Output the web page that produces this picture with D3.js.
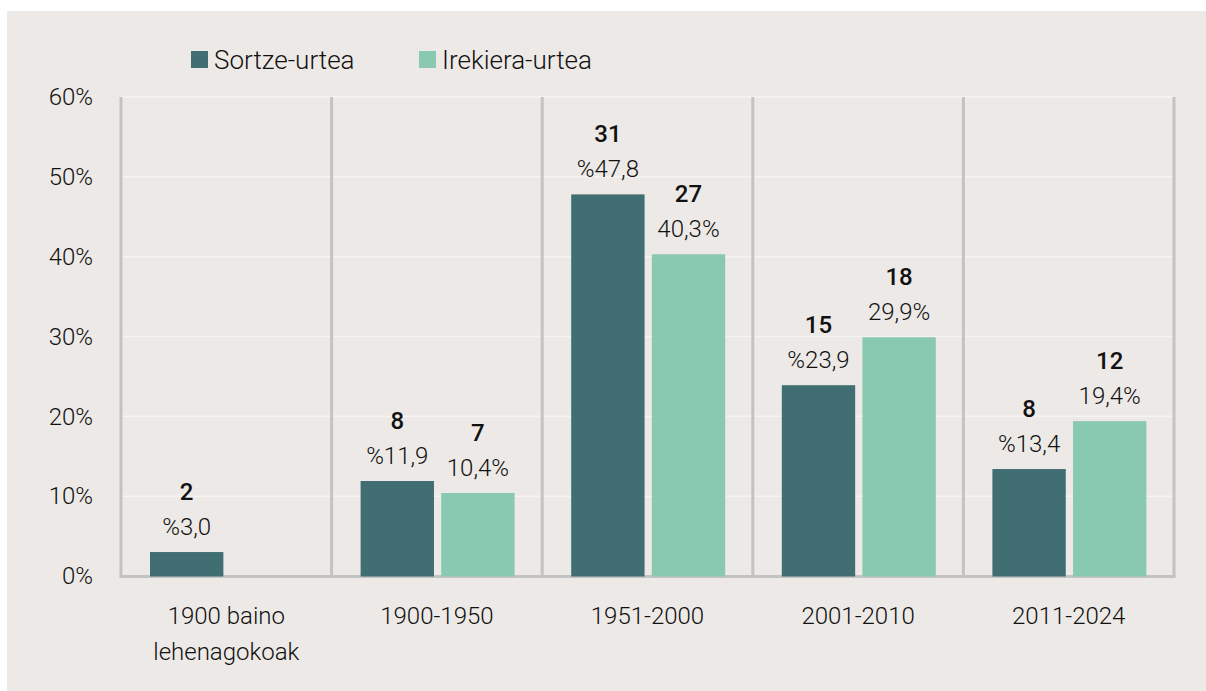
<!DOCTYPE html>
<html><head><meta charset="utf-8">
<script src="https://cdn.jsdelivr.net/npm/d3@7"></script>
<style>
html,body{margin:0;padding:0;background:#fff;}
svg text{font-family:"Roboto",sans-serif;font-weight:300;fill:#111;}
</style></head>
<body><svg id="c" width="1206" height="691"></svg>
<script>
const categories = [["1900 baino","lehenagokoak"],["1900-1950"],["1951-2000"],["2001-2010"],["2011-2024"]];
const seriesNames = ["Sortze-urtea","Irekiera-urtea"];
const sortzePct = [3.0, 11.9, 47.8, 23.9, 13.4];
const sortzeCount = [2, 8, 31, 15, 8];
const irekieraPct = [null, 10.4, 40.3, 29.9, 19.4];
const irekieraCount = [null, 7, 27, 18, 12];
const yTicks = [0,10,20,30,40,50,60];
const colors = ["#416e73","#89c9b0"];

const svg = d3.select("#c");
svg.append("rect").attr("x",7).attr("y",11).attr("width",1199).attr("height",680).attr("fill","#ede9e6");

const x0 = 121, x1 = 1174;
const x = d3.scaleBand().domain(d3.range(categories.length)).range([x0,x1]).paddingInner(0).paddingOuter(0);
const y = d3.scaleLinear().domain([0,60]).range([576,97]);
const xs = d3.scaleBand().domain([0,1]).range([29,183]).paddingInner(0.09);

// grid lines
svg.append("g").selectAll("line").data(yTicks.slice(1)).join("line")
  .attr("x1",x0).attr("x2",x1).attr("y1",d=>y(d)).attr("y2",d=>y(d))
  .attr("stroke","#f6f4f2").attr("stroke-width",1.5);

// y axis labels
const yAxis = d3.axisLeft(y).tickValues(yTicks).tickFormat(d=>d+"%").tickSize(0).tickPadding(28);
const ya = svg.append("g").attr("transform",`translate(${x0},0)`).call(yAxis);
ya.select(".domain").remove();
ya.selectAll("text").attr("font-size",24).attr("fill","#111").style("font-family",null);

// vertical separators
const seps = d3.range(categories.length+1).map(i=> i<categories.length ? x(i) : x1);
svg.append("g").selectAll("line").data(seps).join("line")
  .attr("x1",d=>d).attr("x2",d=>d).attr("y1",97).attr("y2",577)
  .attr("stroke","#c3c3c3").attr("stroke-width",3);
// baseline
svg.append("line").attr("x1",x0-1.5).attr("x2",x1+1.5).attr("y1",576.5).attr("y2",576.5)
  .attr("stroke","#c3c3c3").attr("stroke-width",3);

const data = [];
categories.forEach((c,i)=>{
  data.push({i,s:0,v:sortzePct[i],n:sortzeCount[i],lab:sortzePct[i]!=null?"%"+sortzePct[i].toFixed(1).replace(".",","):""});
  data.push({i,s:1,v:irekieraPct[i],n:irekieraCount[i],lab:irekieraPct[i]!=null?irekieraPct[i].toFixed(1).replace(".",",")+"%":""});
});
const valid = data.filter(d=>d.v!=null);

svg.append("g").selectAll("rect").data(valid).join("rect")
  .attr("x",d=>x(d.i)+xs(d.s)).attr("width",xs.bandwidth())
  .attr("y",d=>y(d.v)).attr("height",d=>y(0)-y(d.v)+0.5)
  .attr("fill",d=>colors[d.s]);

const lg = svg.append("g");
lg.selectAll("text.p").data(valid).join("text").attr("class","p")
  .attr("x",d=>x(d.i)+xs(d.s)+xs.bandwidth()/2).attr("y",d=>y(d.v)-17)
  .attr("text-anchor","middle").attr("font-size",24).text(d=>d.lab);
lg.selectAll("text.n").data(valid).join("text").attr("class","n")
  .attr("x",d=>x(d.i)+xs(d.s)+xs.bandwidth()/2).attr("y",d=>y(d.v)-52)
  .attr("text-anchor","middle").attr("font-size",24).style("font-weight",500).text(d=>d.n);

// category labels
const cl = svg.append("g").selectAll("text").data(categories).join("text")
  .attr("x",(d,i)=>x(i)+x.bandwidth()/2).attr("y",624)
  .attr("text-anchor","middle").attr("font-size",24);
cl.selectAll("tspan").data(d=>d).join("tspan")
  .attr("x",function(){return this.parentNode.getAttribute("x");})
  .attr("dy",(d,j)=>j===0?0:36).text(d=>d);

// legend
const legX = [191, 419];
const leg = svg.append("g").selectAll("g").data(seriesNames).join("g")
  .attr("transform",(d,i)=>`translate(${legX[i]},51)`);
leg.append("rect").attr("width",17).attr("height",17).attr("fill",(d,i)=>colors[i]);
leg.append("text").attr("x",23).attr("y",18).attr("font-size",26).text(d=>d);
</script></body></html>
